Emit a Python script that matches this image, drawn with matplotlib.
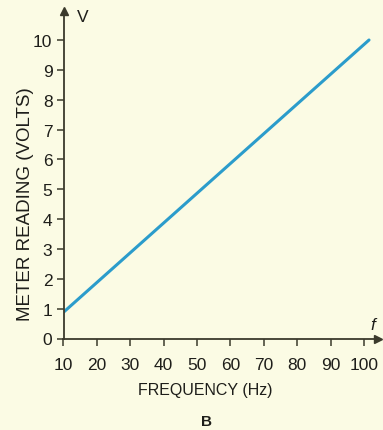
import matplotlib
matplotlib.use("Agg")
import matplotlib.pyplot as plt
from matplotlib import font_manager

names = {f.name for f in font_manager.fontManager.ttflist}
fam = ['Liberation Sans Narrow'] if 'Liberation Sans Narrow' in names else ['Liberation Sans']
plt.rcParams['font.family'] = fam + ['DejaVu Sans']

# Data
freq = [10, 101.5]
volts = [0.88, 10.0]
xticks = [10, 20, 30, 40, 50, 60, 70, 80, 90, 100]
yticks = [0, 1, 2, 3, 4, 5, 6, 7, 8, 9, 10]

bg = '#fbfbe4'
axc = '#3b3a2c'
linec = '#2b9ccb'
txt = '#1e1e1a'

W, H = 383, 431
fig = plt.figure(figsize=(W / 100, H / 100), dpi=100, facecolor=bg)
left, right_px = 63.5, 378
bottom_px, top_px = 339.5, 12
ax = fig.add_axes([left / W, (H - bottom_px) / H, (right_px - left) / W, (bottom_px - top_px) / H])
ax.set_facecolor(bg)
ax.set_xlim(10, 10 + (right_px - left) / 3.339)
ax.set_ylim(0, (bottom_px - top_px) / 29.85)

ax.plot(freq, volts, color=linec, lw=2.2, solid_capstyle='round')

for s in ['top', 'right']:
    ax.spines[s].set_visible(False)
for s in ['left', 'bottom']:
    ax.spines[s].set_color(axc)
    ax.spines[s].set_linewidth(1.3)

ax.set_xticks(xticks)
ax.set_yticks(yticks)
ax.tick_params(axis='both', colors=axc, length=5, width=1.1, labelsize=12.5, labelcolor=txt, pad=3)
ax.tick_params(axis='x', pad=8)

# Axis arrows
ax.plot(1, 0, '>', color=axc, ms=6, transform=ax.transAxes, clip_on=False)
ax.plot(0, 1, '^', color=axc, ms=6, transform=ax.transAxes, clip_on=False)

fig.text(77 / W, 1 - 18 / H, 'V', fontsize=12.5, color=txt, va='center', ha='left')
fig.text(373 / W, 1 - 326 / H, 'f', fontsize=12.5, style='italic', color=txt, va='center', ha='center')

fig.text(26 / W, 1 - 204 / H, 'METER READING (VOLTS)', rotation=90, fontsize=13.5, color=txt, va='center', ha='center')
fig.text(205 / W, 1 - 391 / H, 'FREQUENCY (Hz)', fontsize=11.5, color=txt, va='center', ha='center')
fig.text(206 / W, 1 - 422 / H, 'B', fontsize=11, weight='bold', color=txt, va='center', ha='center')

fig.savefig('out.png', dpi=100, facecolor=bg)
